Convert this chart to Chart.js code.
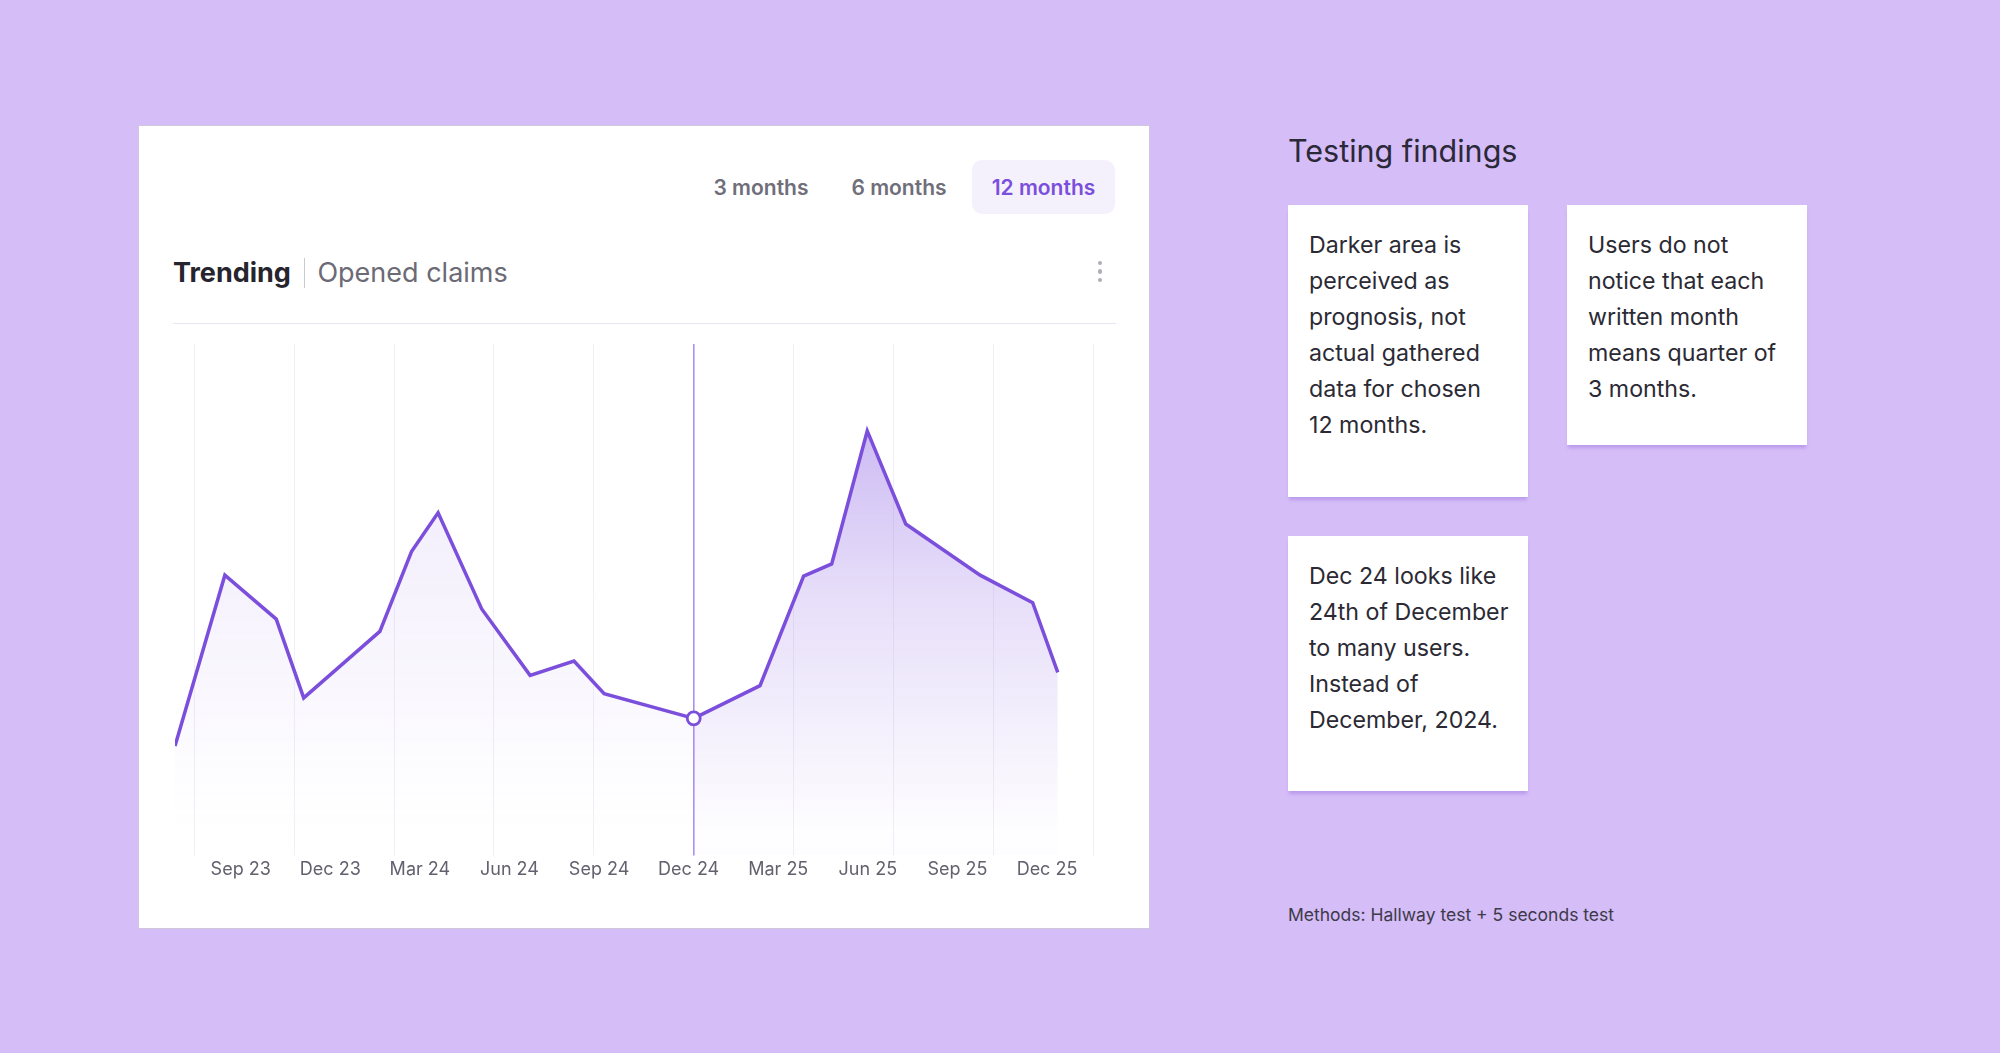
<!DOCTYPE html>
<html>
<head>
<meta charset="utf-8">
<script src="https://cdn.jsdelivr.net/npm/chart.js@4.4.1/dist/chart.umd.min.js"></script>
<style>
  body { margin:0; width:2000px; height:1053px; background:#d5bdf8; font-family: Inter, sans-serif; position:relative; overflow:hidden; }
  .card { position:absolute; left:138px; top:125px; width:1010px; height:802px; background:#fff; border:1px solid #cfc8dc; }
  .tab { position:absolute; top:161px; height:54px; line-height:54px; text-align:center; font-size:21px; font-weight:600; color:#6f6e7a; }
  .tab.active { top:160px; background:#f4f1fd; color:#7b4fdc; border-radius:10px; line-height:56px; }
  .title { position:absolute; left:173px; top:257px; height:32px; line-height:32px; font-size:27px; white-space:nowrap; }
  .title b { color:#26252e; font-weight:700; }
  .title .sep { display:inline-block; width:1.5px; height:30px; background:#cbcad3; vertical-align:middle; margin:0 12px 0 13px; position:relative; top:-2px; }
  .title span.sub { color:#6b6a75; }
  .dot { position:absolute; left:1097.5px; width:4.5px; height:4.5px; border-radius:50%; background:#afaeb8; }
  .divider { position:absolute; left:173px; top:322.5px; width:943px; height:1.5px; background:#e8e5f5; }
  #wrap { position:absolute; left:175px; top:344px; width:941px; height:539px; }
  .heading { position:absolute; left:1288px; top:132px; font-size:30.5px; color:#2b2838; white-space:nowrap; }
  .note { position:absolute; width:240px; background:#fff; box-sizing:border-box; padding:21.5px 10px 0 21px; font-size:23.2px; line-height:36px; color:#2b2a34; box-shadow:0 4px 3px -1px rgba(140,95,215,0.35); white-space:nowrap; }
  .methods { position:absolute; left:1288px; top:904px; font-size:17.5px; color:#3d3a4a; white-space:nowrap; }
</style>
</head>
<body>
<div class="card"></div>
<div class="tab" style="left:700px;width:122px;">3 months</div>
<div class="tab" style="left:838px;width:122px;">6 months</div>
<div class="tab active" style="left:972px;width:143px;">12 months</div>
<div class="title"><b>Trending</b><span class="sep"></span><span class="sub">Opened claims</span></div>
<div class="dot" style="top:260.5px"></div>
<div class="dot" style="top:269px"></div>
<div class="dot" style="top:277.7px"></div>
<div class="divider"></div>
<div id="wrap"><canvas id="myChart" width="941" height="539"></canvas></div>

<div class="heading">Testing findings</div>
<div class="note" style="left:1288px;top:205px;height:292px;">Darker area is<br>perceived as<br>prognosis, not<br>actual gathered<br>data for chosen<br>12 months.</div>
<div class="note" style="left:1567px;top:205px;height:240px;">Users do not<br>notice that each<br>written month<br>means quarter of<br>3 months.</div>
<div class="note" style="left:1288px;top:536px;height:255px;">Dec 24 looks like<br>24th of December<br>to many users.<br>Instead of<br>December, 2024.</div>
<div class="methods">Methods: Hallway test + 5 seconds test</div>

<script>
// quarter labels on the x axis, placed by month (0 = Sep 23)
var tickLabels = ['Sep 23', 'Dec 23', 'Mar 24', 'Jun 24', 'Sep 24', 'Dec 24', 'Mar 25', 'Jun 25', 'Sep 25', 'Dec 25'];
var tickMonths = [0, 3, 6, 9, 12, 15, 18, 21, 24, 27];

// opened claims, x in months since Sep 23
var pointMonths = [-2.2, -0.53, 1.19, 2.11, 4.66, 5.72, 6.61, 8.07, 9.69, 11.16, 12.17, 15.17, 17.39, 18.85, 19.79, 20.98, 22.27, 24.76, 26.52, 27.36];
var openedClaims = [107, 274, 231, 154, 219, 297, 335, 241, 176, 190, 158, 134, 166, 273, 285, 415, 324, 274, 247, 179];
var todayIndex = 11;   // Dec 24, from here on it is the darker part

var purple = '#7b4fdc';
var lightFill, darkFill;

var points = pointMonths.map(function (m, i) {
  return { x: m, y: openedClaims[i] };
});

var gradients = {
  id: 'gradients',
  afterLayout: function (chart) {
    var a = chart.chartArea;
    var c = chart.ctx;
    lightFill = c.createLinearGradient(0, a.top, 0, a.bottom);
    lightFill.addColorStop(0, 'rgba(124,77,224,0.14)');
    lightFill.addColorStop(0.95, 'rgba(124,77,224,0)');
    darkFill = c.createLinearGradient(0, a.top, 0, a.bottom);
    darkFill.addColorStop(0, 'rgba(124,77,224,0.48)');
    darkFill.addColorStop(0.5, 'rgba(124,77,224,0.18)');
    darkFill.addColorStop(0.95, 'rgba(124,77,224,0.01)');
  }
};

var myChart = document.getElementById('myChart').getContext('2d');

var chart = new Chart(myChart, {
  type: 'line',
  plugins: [gradients],
  data: {
    datasets: [{
      data: points,
      borderColor: purple,
      borderWidth: 3.5,
      tension: 0,
      fill: 'start',
      backgroundColor: 'rgba(124,77,224,0.05)',
      segment: {
        backgroundColor: function (ctx) {
          return ctx.p0DataIndex >= todayIndex ? darkFill : lightFill;
        }
      },
      pointRadius: function (ctx) { return ctx.dataIndex === todayIndex ? 6.5 : 0; },
      pointBackgroundColor: '#fff',
      pointBorderColor: purple,
      pointBorderWidth: 2.8,
      clip: false
    }]
  },
  options: {
    responsive: false,
    animation: false,
    layout: { padding: 0 },
    plugins: {
      legend: { display: false },
      tooltip: { enabled: false }
    },
    scales: {
      x: {
        type: 'linear',
        min: -2.2,
        max: 29.31,
        grid: { display: false, drawTicks: false },
        border: { display: false },
        afterBuildTicks: function (scale) {
          scale.ticks = tickMonths.map(function (v) { return { value: v }; });
        },
        ticks: {
          autoSkip: false,
          maxRotation: 0,
          padding: 3,
          color: '#62616e',
          font: { family: 'Inter', size: 18 },
          callback: function (value) { return tickLabels[tickMonths.indexOf(value)]; }
        }
      },
      xGrid: {
        type: 'linear',
        position: 'top',
        min: -0.193,
        max: 9.226,
        afterBuildTicks: function (scale) {
          var t = [];
          for (var i = 0; i <= 9; i++) t.push({ value: i });
          scale.ticks = t;
        },
        ticks: { display: false },
        border: { display: false },
        grid: {
          drawTicks: false,
          color: function (ctx) { return ctx.tick && ctx.tick.value === 5 ? '#ab91ee' : '#f1eff8'; },
          lineWidth: function (ctx) { return ctx.tick && ctx.tick.value === 5 ? 1.6 : 1; }
        }
      },
      y: {
        display: false,
        min: 0,
        max: 500
      }
    }
  }
});
</script>
</body>
</html>
